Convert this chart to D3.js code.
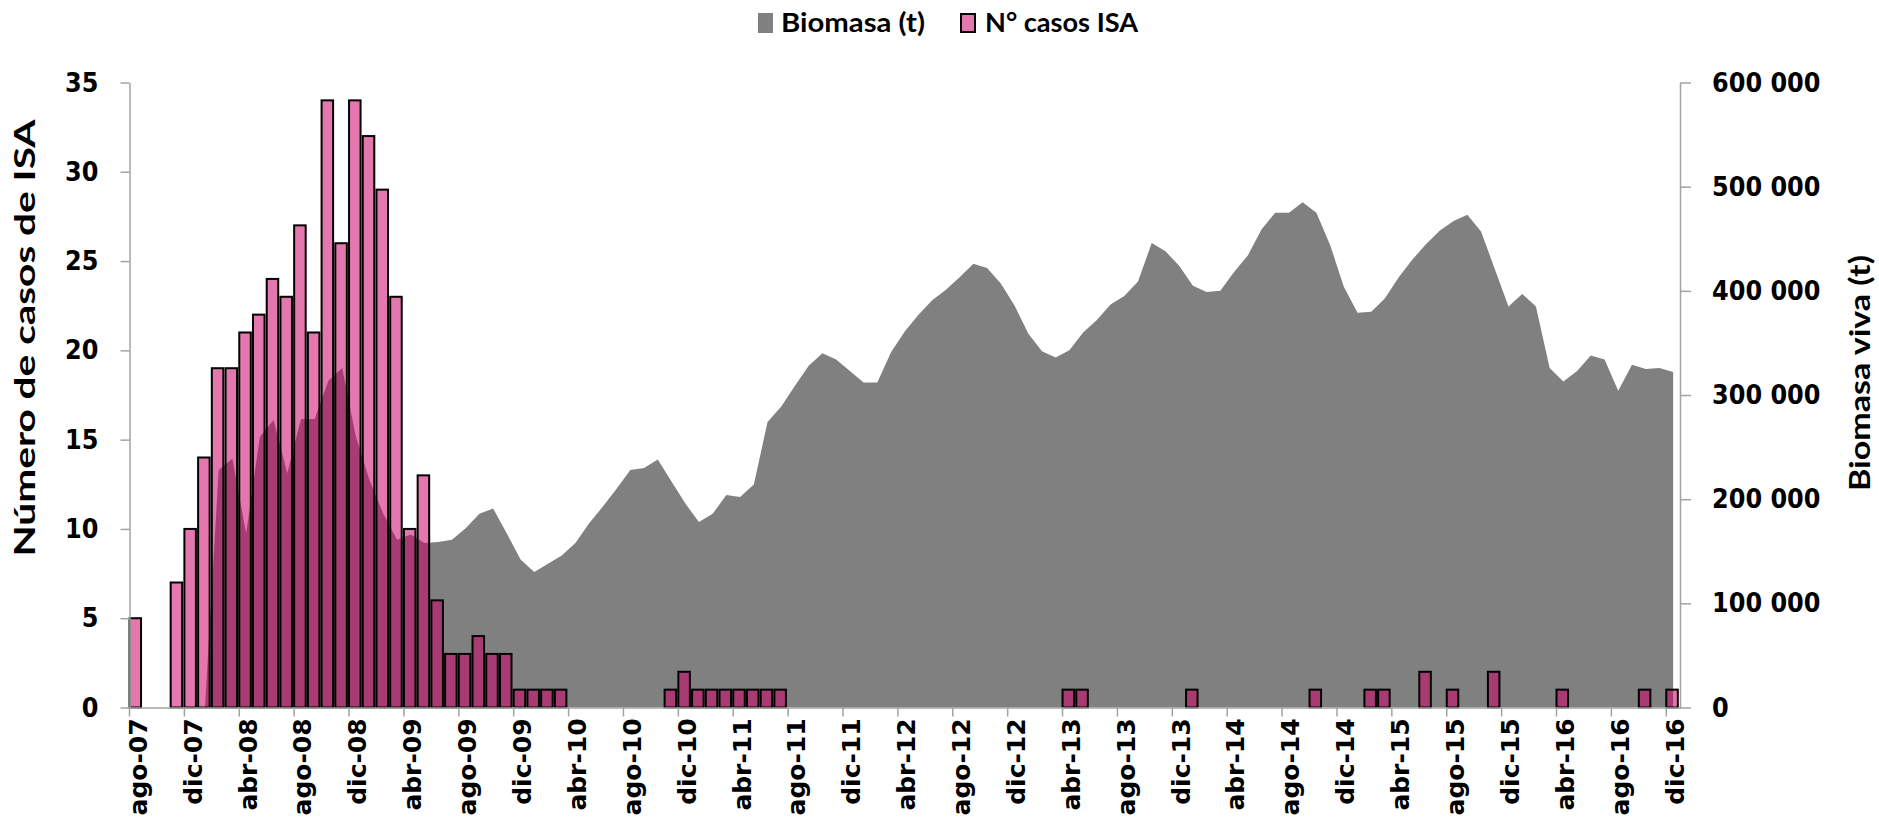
<!DOCTYPE html>
<html lang="es">
<head>
    <meta charset="UTF-8">
    <title>Biomasa y casos ISA</title>
    <script src="https://d3js.org/d3.v7.min.js"></script>
    <style>
        body { margin: 0; background: #fff; }
        svg { display: block; }
    </style>
</head>
<body>
    <script>
        // meses (ago-07 .. dic-16)
        const categories = [
            "ago-07","sep-07","oct-07","nov-07","dic-07",
            "ene-08","feb-08","mar-08","abr-08","may-08","jun-08","jul-08","ago-08","sep-08","oct-08","nov-08","dic-08",
            "ene-09","feb-09","mar-09","abr-09","may-09","jun-09","jul-09","ago-09","sep-09","oct-09","nov-09","dic-09",
            "ene-10","feb-10","mar-10","abr-10","may-10","jun-10","jul-10","ago-10","sep-10","oct-10","nov-10","dic-10",
            "ene-11","feb-11","mar-11","abr-11","may-11","jun-11","jul-11","ago-11","sep-11","oct-11","nov-11","dic-11",
            "ene-12","feb-12","mar-12","abr-12","may-12","jun-12","jul-12","ago-12","sep-12","oct-12","nov-12","dic-12",
            "ene-13","feb-13","mar-13","abr-13","may-13","jun-13","jul-13","ago-13","sep-13","oct-13","nov-13","dic-13",
            "ene-14","feb-14","mar-14","abr-14","may-14","jun-14","jul-14","ago-14","sep-14","oct-14","nov-14","dic-14",
            "ene-15","feb-15","mar-15","abr-15","may-15","jun-15","jul-15","ago-15","sep-15","oct-15","nov-15","dic-15",
            "ene-16","feb-16","mar-16","abr-16","may-16","jun-16","jul-16","ago-16","sep-16","oct-16","nov-16","dic-16"
        ];

        // N° casos ISA
        const casosISA = [
            5, 0, 0, 7, 10,
            14, 19, 19, 21, 22, 24, 23, 27, 21, 34, 26, 34,
            32, 29, 23, 10, 13, 6, 3, 3, 4, 3, 3, 1,
            1, 1, 1, 0, 0, 0, 0, 0, 0, 0, 1, 2,
            1, 1, 1, 1, 1, 1, 1, 0, 0, 0, 0, 0,
            0, 0, 0, 0, 0, 0, 0, 0, 0, 0, 0, 0,
            0, 0, 0, 1, 1, 0, 0, 0, 0, 0, 0, 0,
            1, 0, 0, 0, 0, 0, 0, 0, 0, 1, 0, 0,
            0, 1, 1, 0, 0, 2, 0, 1, 0, 0, 2, 0,
            0, 0, 0, 1, 0, 0, 0, 0, 0, 1, 0, 1
        ];

        // Biomasa (t)
        const biomasa = [
            0, 0, 0, 0, 0,
            0, 228000, 239000, 167000, 260000, 276000, 225000, 277000, 277000, 314000, 326000, 260000,
            218000, 186000, 161000, 166000, 158000, 159000, 161000, 172000, 186000, 191000, 167000, 142000,
            130000, 138000, 146000, 158000, 177000, 193000, 210000, 228000, 230000, 238000, 217000, 196000,
            178000, 186000, 204000, 202000, 214000, 274000, 289000, 309000, 328000, 340000, 334000, 323000,
            312000, 312000, 341000, 361000, 377000, 391000, 401000, 413000, 426000, 422000, 407000, 386000,
            359000, 342000, 336000, 343000, 360000, 372000, 387000, 395000, 409000, 446000, 438000, 424000,
            405000, 399000, 400000, 418000, 434000, 459000, 475000, 475000, 485000, 475000, 444000, 404000,
            379000, 380000, 393000, 413000, 430000, 445000, 458000, 467000, 473000, 457000, 421000, 385000,
            397000, 385000, 326000, 313000, 323000, 338000, 334000, 304000, 329000, 325000, 326000, 322000
        ];

        const tickLabels = [
            "ago-07","dic-07","abr-08","ago-08","dic-08","abr-09","ago-09","dic-09",
            "abr-10","ago-10","dic-10","abr-11","ago-11","dic-11","abr-12","ago-12",
            "dic-12","abr-13","ago-13","dic-13","abr-14","ago-14","dic-14","abr-15",
            "ago-15","dic-15","abr-16","ago-16","dic-16"
        ];
        const casosTicks = [0, 5, 10, 15, 20, 25, 30, 35];
        const biomasaTicks = [0, 100000, 200000, 300000, 400000, 500000, 600000];

        const width = 1879, height = 824;
        const plotLeft = 129.5, plotRight = 1680, plotTop = 82.5, plotBottom = 707.5;
        const axisColor = "#a3a3a3";

        const svg = d3.select("body").append("svg")
            .attr("width", width)
            .attr("height", height);

        const x = d3.scaleBand()
            .domain(categories)
            .range([plotLeft, plotRight])
            .paddingInner(0.16)
            .paddingOuter(0.08)
            .align(0);

        const yCasos = d3.scaleLinear().domain([0, 35]).range([plotBottom, plotTop]);
        const yBio = d3.scaleLinear().domain([0, 600000]).range([plotBottom, plotTop]);

        // area de biomasa
        const area = d3.area()
            .x((d, i) => x(categories[i]) + x.step() / 2)
            .y0(yBio(0))
            .y1(d => yBio(d));

        svg.append("path")
            .datum(biomasa)
            .attr("d", area)
            .attr("fill", "#808080");

        // barras casos ISA
        const barData = casosISA.map((v, i) => ({ cat: categories[i], v: v })).filter(d => d.v > 0);
        svg.append("g").selectAll("rect")
            .data(barData)
            .enter().append("rect")
            .attr("x", d => x(d.cat))
            .attr("y", d => yCasos(d.v))
            .attr("width", x.bandwidth())
            .attr("height", d => yCasos(0) - yCasos(d.v))
            .attr("fill", "#cc0066")
            .attr("fill-opacity", 0.53)
            .attr("stroke", "#000")
            .attr("stroke-width", 2);

        // ejes
        const fmt = d3.formatLocale({ decimal: ",", thousands: " ", grouping: [3], currency: ["", ""] }).format(",");

        const gLeft = svg.append("g")
            .attr("transform", `translate(${plotLeft},0)`)
            .call(d3.axisLeft(yCasos).tickValues(casosTicks).tickSize(9).tickSizeOuter(0).tickPadding(22));

        const gRight = svg.append("g")
            .attr("transform", `translate(${plotRight},0)`)
            .call(d3.axisRight(yBio).tickValues(biomasaTicks).tickFormat(fmt).tickSize(11).tickSizeOuter(0).tickPadding(21));

        const gBottom = svg.append("g")
            .attr("transform", `translate(0,${plotBottom})`)
            .call(d3.axisBottom(x).tickValues(tickLabels).tickSize(9).tickSizeOuter(0));

        [gLeft, gRight, gBottom].forEach(g => {
            g.select(".domain").attr("stroke", axisColor).attr("stroke-width", 1.5);
            g.selectAll(".tick line").attr("stroke", axisColor).attr("stroke-width", 1.5);
        });

        [gLeft, gRight].forEach(g => {
            g.selectAll(".tick text")
                .attr("font-family", "DejaVu Sans")
                .attr("font-weight", "bold")
                .attr("font-size", 24)
                .attr("fill", "#000")
                .attr("transform", "scale(1,1.12)");
        });

        const bw = x.bandwidth();
        gBottom.selectAll(".tick line").attr("x1", -bw / 2).attr("x2", -bw / 2);
        gBottom.selectAll(".tick text")
            .attr("x", 0).attr("y", 0).attr("dy", "0.35em")
            .attr("text-anchor", "end")
            .attr("transform", `translate(${x.step() / 2 - bw / 2 + 2},11) rotate(-90) scale(1.04,1)`)
            .attr("font-family", "DejaVu Sans")
            .attr("font-weight", "bold")
            .attr("font-size", 24)
            .attr("fill", "#000");

        // titulos de ejes
        svg.append("text")
            .attr("transform", "translate(35,338) rotate(-90)")
            .attr("text-anchor", "middle")
            .attr("font-family", "Lato")
            .attr("font-weight", "bold")
            .attr("font-size", 28)
            .attr("textLength", 437)
            .attr("lengthAdjust", "spacingAndGlyphs")
            .text("Número de casos de ISA");

        svg.append("text")
            .attr("transform", "translate(1870,373) rotate(-90)")
            .attr("text-anchor", "middle")
            .attr("font-family", "Lato")
            .attr("font-weight", "bold")
            .attr("font-size", 29)
            .attr("textLength", 236)
            .attr("lengthAdjust", "spacingAndGlyphs")
            .text("Biomasa viva (t)");

        // leyenda
        const legend = svg.append("g");
        legend.append("rect")
            .attr("x", 758).attr("y", 13).attr("width", 15).attr("height", 20)
            .attr("fill", "#808080");
        legend.append("text")
            .attr("x", 781).attr("y", 32)
            .attr("font-family", "Lato").attr("font-weight", "bold").attr("font-size", 27)
            .attr("textLength", 144).attr("lengthAdjust", "spacingAndGlyphs")
            .text("Biomasa (t)");
        legend.append("rect")
            .attr("x", 961).attr("y", 14).attr("width", 14).attr("height", 18)
            .attr("fill", "#cc0066").attr("fill-opacity", 0.53)
            .attr("stroke", "#000").attr("stroke-width", 2);
        legend.append("text")
            .attr("x", 985).attr("y", 32)
            .attr("font-family", "Lato").attr("font-weight", "bold").attr("font-size", 27)
            .attr("textLength", 153).attr("lengthAdjust", "spacingAndGlyphs")
            .text("N° casos ISA");
    </script>
</body>
</html>
